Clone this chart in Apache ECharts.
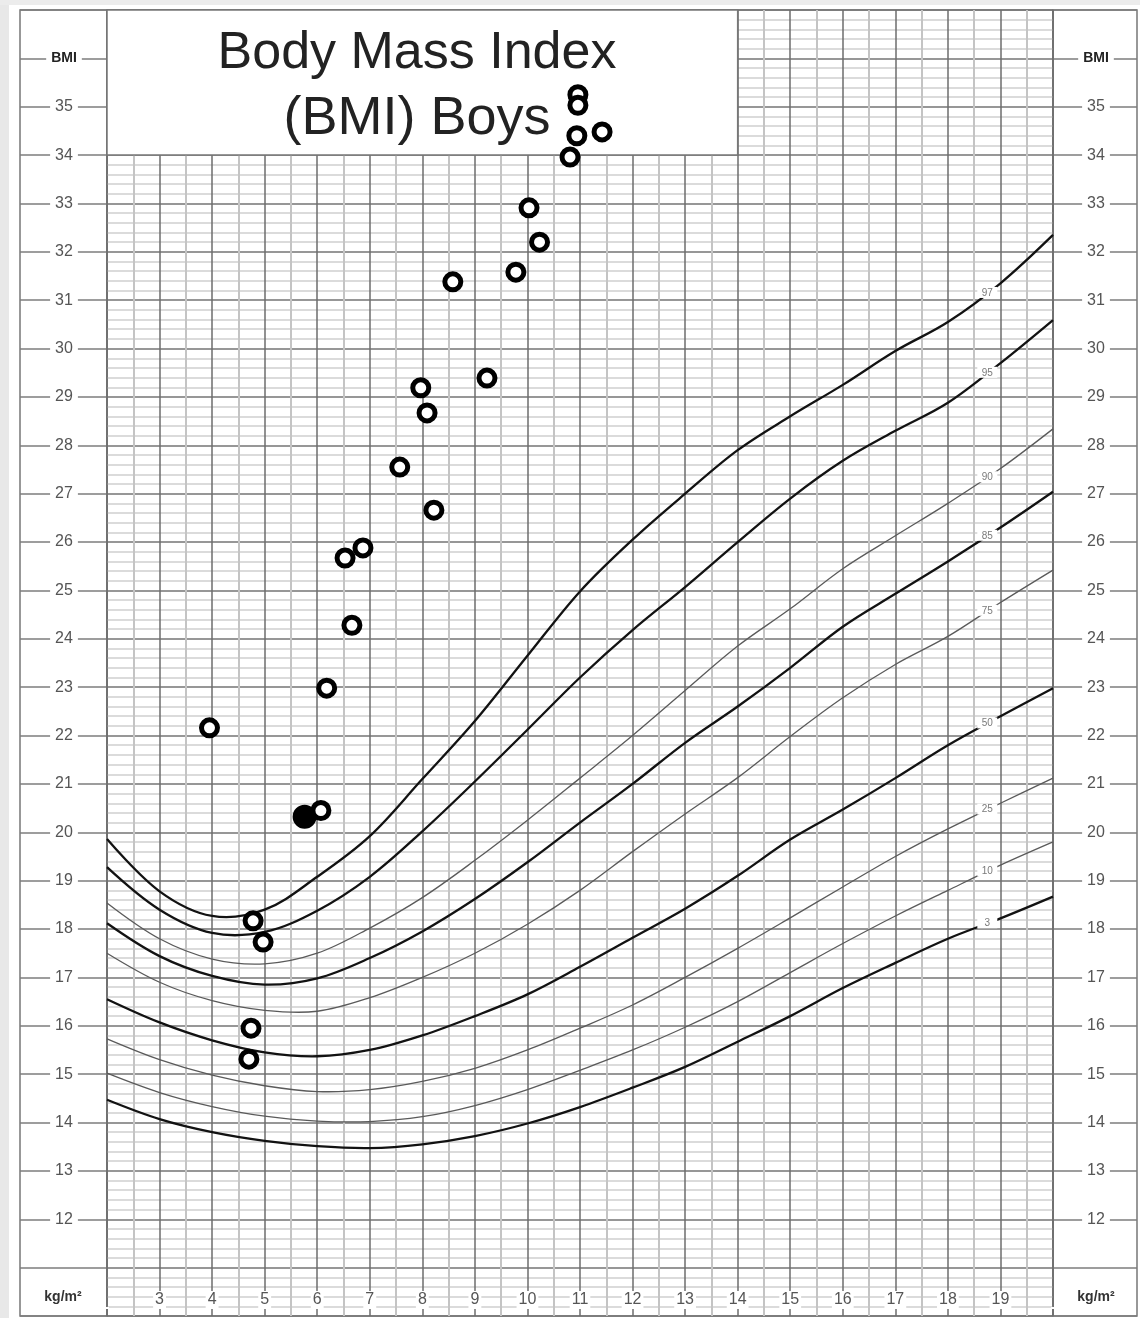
<!DOCTYPE html>
<html>
<head>
<meta charset="utf-8">
<title>Body Mass Index (BMI) Boys</title>
<script src="https://cdn.jsdelivr.net/npm/echarts@6/dist/echarts.min.js"></script>
<style>
html, body { margin: 0; padding: 0; background: #fff; }
#bmichart { width: 1140px; height: 1318px; }
</style>
</head>
<body>
<div id="bmichart"></div>
<script>
var ageYears = [2, 3, 4, 5, 6, 7, 8, 9, 10, 11, 12, 13, 14, 15, 16, 17, 18, 19, 20];
var p3  = [14.47, 14.07, 13.80, 13.62, 13.51, 13.47, 13.55, 13.72, 13.98, 14.32, 14.72, 15.15, 15.67, 16.20, 16.78, 17.30, 17.80, 18.22, 18.67];
var p10 = [15.02, 14.62, 14.33, 14.13, 14.03, 14.02, 14.12, 14.35, 14.68, 15.08, 15.50, 15.97, 16.50, 17.10, 17.70, 18.27, 18.80, 19.32, 19.80];
var p25 = [15.73, 15.30, 14.98, 14.76, 14.64, 14.68, 14.85, 15.12, 15.50, 15.95, 16.43, 17.00, 17.60, 18.23, 18.87, 19.50, 20.07, 20.60, 21.12];
var p50 = [16.55, 16.07, 15.70, 15.45, 15.37, 15.50, 15.80, 16.20, 16.65, 17.22, 17.82, 18.42, 19.10, 19.85, 20.47, 21.12, 21.80, 22.40, 22.98];
var p75 = [17.50, 16.90, 16.52, 16.32, 16.30, 16.58, 17.00, 17.50, 18.10, 18.80, 19.60, 20.38, 21.13, 21.98, 22.78, 23.47, 24.05, 24.75, 25.42];
var p85 = [18.12, 17.44, 17.03, 16.85, 16.98, 17.40, 17.95, 18.62, 19.38, 20.20, 21.00, 21.85, 22.60, 23.40, 24.25, 24.93, 25.60, 26.30, 27.04];
var p90 = [18.54, 17.80, 17.38, 17.28, 17.50, 18.02, 18.65, 19.42, 20.25, 21.12, 22.00, 22.93, 23.85, 24.62, 25.45, 26.13, 26.80, 27.52, 28.34];
var p95 = [19.28, 18.40, 17.92, 17.94, 18.38, 19.08, 20.02, 21.05, 22.12, 23.20, 24.18, 25.07, 26.00, 26.90, 27.68, 28.30, 28.88, 29.70, 30.59];
var p97 = [19.86, 18.78, 18.27, 18.40, 19.08, 19.92, 21.10, 22.30, 23.65, 24.98, 26.05, 27.00, 27.90, 28.60, 29.25, 29.95, 30.55, 31.35, 32.35];

var percentiles = ['3', '10', '25', '50', '75', '85', '90', '95', '97'];
var thickLines = ['3', '50', '85', '95', '97'];
// little percentile numbers sitting on the curves
var labelAge = 18.75;
var labelBmi = [18.12, 19.19, 20.47, 22.25, 24.58, 26.13, 27.34, 29.50, 31.15];

// measured children (open circles)
var pointAge = [3.95, 4.78, 4.97, 4.74, 4.70, 6.07, 6.18, 6.53, 6.87, 6.66, 7.57, 7.97, 8.09, 8.22, 8.58, 9.23, 9.78, 10.03, 10.23, 10.81, 10.94, 10.96, 10.96, 11.42];
var pointBmi = [22.16, 18.17, 17.73, 15.95, 15.31, 20.45, 22.98, 25.67, 25.88, 24.28, 27.55, 29.19, 28.67, 26.66, 31.38, 29.39, 31.58, 32.91, 32.20, 33.96, 34.40, 35.25, 35.03, 34.48];
// the blacked-out one
var filledAge = [5.76];
var filledBmi = [20.32];

var ageLabels = [3, 4, 5, 6, 7, 8, 9, 10, 11, 12, 13, 14, 15, 16, 17, 18, 19];
var bmiLabels = [12, 13, 14, 15, 16, 17, 18, 19, 20, 21, 22, 23, 24, 25, 26, 27, 28, 29, 30, 31, 32, 33, 34, 35];

var curves = [p3, p10, p25, p50, p75, p85, p90, p95, p97];
var FONT = '"Liberation Sans", Arial, sans-serif';

var bmichart = echarts.init(document.getElementById('bmichart'));

function sideLabel(v) {
    if (v === 36) return '{b|BMI}';
    if (bmiLabels.indexOf(v) > -1) return String(v);
    return '';
}

var sideAxisLabel = {
    show: true,
    inside: true,
    align: 'center',
    formatter: sideLabel,
    color: '#555',
    fontSize: 16,
    fontFamily: FONT,
    backgroundColor: '#fff',
    padding: [0, 5],
    rich: {
        b: { fontWeight: 'bold', fontSize: 14, color: '#222', fontFamily: FONT }
    }
};

// one smooth curve per percentile, positioned through the cartesian axes
function renderCurve(params, api) {
    var i = params.dataIndex;
    var bold = thickLines.indexOf(percentiles[i]) > -1;
    var pts = ageYears.map(function (a, j) { return api.coord([a, curves[i][j]]); });
    var lp = api.coord([labelAge, labelBmi[i]]);
    return {
        type: 'group',
        children: [
            {
                type: 'polyline',
                shape: { points: pts, smooth: 0.35 },
                style: { fill: 'none', stroke: bold ? '#121212' : '#5a5a5a', lineWidth: bold ? 2.3 : 1.3 }
            },
            {
                type: 'rect',
                shape: { x: lp[0] - 10, y: lp[1] - 6, width: 20, height: 11 },
                style: { fill: '#fff' }
            },
            {
                type: 'text',
                x: lp[0],
                y: lp[1],
                style: { text: percentiles[i], fill: '#7a7a7a', font: '10px ' + FONT, align: 'center', verticalAlign: 'middle' }
            }
        ]
    };
}

var option = {
    animation: false,
    backgroundColor: '#fff',
    grid: [
        { left: 107, top: 10, width: 946, height: 1306, show: true, borderColor: '#777', borderWidth: 1.5 },
        { left: 20, top: 10, width: 87, height: 1306, show: true, borderColor: '#777', borderWidth: 1.5 },
        { left: 1053, top: 10, width: 84, height: 1306, show: true, borderColor: '#777', borderWidth: 1.5 }
    ],
    xAxis: [
        {
            gridIndex: 0,
            type: 'value',
            min: 2,
            max: 20,
            interval: 1,
            z: 1,
            axisLine: { show: false },
            axisTick: { show: false },
            axisLabel: {
                inside: true,
                margin: 7,
                formatter: function (v) { return ageLabels.indexOf(v) > -1 ? String(v) : ''; },
                color: '#555',
                fontSize: 16,
                fontFamily: FONT,
                backgroundColor: '#fff',
                padding: [1, 2]
            },
            splitLine: { show: true, lineStyle: { color: '#6c6c6c', width: 1.5 } },
            minorTick: { show: false, splitNumber: 2 },
            minorSplitLine: { show: true, lineStyle: { color: '#c4c4c4', width: 2 } }
        },
        { gridIndex: 1, type: 'value', min: 0, max: 1, show: false },
        { gridIndex: 2, type: 'value', min: 0, max: 1, show: false }
    ],
    yAxis: [
        {
            gridIndex: 0,
            type: 'value',
            min: 10,
            max: 37,
            interval: 1,
            axisLine: { show: false },
            axisTick: { show: false },
            axisLabel: { show: false },
            splitLine: { show: true, lineStyle: { color: '#747474', width: 1.5 } },
            minorTick: { show: false, splitNumber: 5 },
            minorSplitLine: { show: true, lineStyle: { color: '#d0d0d0', width: 1.5 } }
        },
        {
            gridIndex: 1,
            type: 'value',
            min: 10,
            max: 37,
            interval: 1,
            position: 'left',
            axisLine: { show: false },
            axisTick: { show: false },
            axisLabel: Object.assign({ margin: 44 }, sideAxisLabel),
            splitLine: { show: true, lineStyle: { color: '#7c7c7c', width: 1.5 } }
        },
        {
            gridIndex: 2,
            type: 'value',
            min: 10,
            max: 37,
            interval: 1,
            position: 'right',
            axisLine: { show: false },
            axisTick: { show: false },
            axisLabel: Object.assign({ margin: 41 }, sideAxisLabel),
            splitLine: { show: true, lineStyle: { color: '#7c7c7c', width: 1.5 } }
        }
    ],
    graphic: [
        { type: 'rect', z: 0, shape: { x: 0, y: 0, width: 9, height: 1318 }, style: { fill: '#e8e8e8' } },
        { type: 'rect', z: 0, shape: { x: 0, y: 0, width: 1140, height: 5 }, style: { fill: '#ececec' } },
        {
            type: 'text', z: 100, x: 417, y: 54,
            style: { text: 'Body Mass Index', font: '52px ' + FONT, fill: '#222', textAlign: 'center', align: 'center', verticalAlign: 'middle', textVerticalAlign: 'middle' }
        },
        {
            type: 'text', z: 100, x: 417, y: 119,
            style: { text: '(BMI) Boys', font: '54px ' + FONT, fill: '#222', textAlign: 'center', align: 'center', verticalAlign: 'middle', textVerticalAlign: 'middle' }
        },
        {
            type: 'text', z: 100, x: 63, y: 1297,
            style: { text: 'kg/m²', font: 'bold 14px ' + FONT, fill: '#333', textAlign: 'center', align: 'center', verticalAlign: 'middle', textVerticalAlign: 'middle' }
        },
        {
            type: 'text', z: 100, x: 1096, y: 1297,
            style: { text: 'kg/m²', font: 'bold 14px ' + FONT, fill: '#333', textAlign: 'center', align: 'center', verticalAlign: 'middle', textVerticalAlign: 'middle' }
        }
    ],
    series: [
        {
            name: 'percentiles',
            type: 'custom',
            xAxisIndex: 0,
            yAxisIndex: 0,
            z: 2,
            silent: true,
            renderItem: renderCurve,
            data: labelBmi.map(function (b) { return [labelAge, b]; }),
            // white box behind the title
            markArea: {
                silent: true,
                itemStyle: { color: '#fff', opacity: 1, borderColor: '#777', borderWidth: 1.5 },
                data: [[{ coord: [2, 37] }, { coord: [14, 34] }]]
            }
        },
        {
            name: 'filled',
            type: 'scatter',
            xAxisIndex: 0,
            yAxisIndex: 0,
            z: 3,
            symbol: 'circle',
            symbolSize: 20,
            itemStyle: { color: '#000', borderColor: '#000', borderWidth: 4, opacity: 1 },
            data: filledAge.map(function (a, i) { return [a, filledBmi[i]]; })
        },
        {
            name: 'children',
            type: 'scatter',
            xAxisIndex: 0,
            yAxisIndex: 0,
            z: 4,
            symbol: 'circle',
            symbolSize: 16,
            itemStyle: { color: '#fff', borderColor: '#000', borderWidth: 5, opacity: 1 },
            data: pointAge.map(function (a, i) { return [a, pointBmi[i]]; })
        }
    ]
};

bmichart.setOption(option);
</script>
</body>
</html>
